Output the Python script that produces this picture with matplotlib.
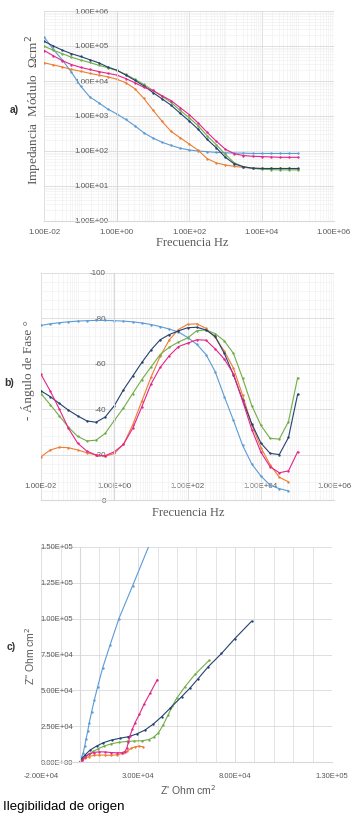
import numpy as np
import matplotlib
matplotlib.use("Agg")
import matplotlib.pyplot as plt
from matplotlib.ticker import LogLocator, MultipleLocator, FixedLocator, FuncFormatter, NullFormatter

# ---- data ----
# log10 of frequency (Hz) for the Bode plots
LOG_FREQ = [-2.0, -1.75, -1.5, -1.25, -1.0, -0.75, -0.5, -0.25, 0.0, 0.25, 0.5, 0.75,
            1.0, 1.25, 1.5, 1.75, 2.0, 2.25, 2.5, 2.75, 3.0, 3.25, 3.5, 3.75, 4.0,
            4.25, 4.5, 4.75, 5.0]

# a) log10 |Z| (ohm cm2)
mag_blue = [5.25, 4.90, 4.60, 4.25, 3.86, 3.55, 3.38, 3.20, 3.06, 2.90, 2.72, 2.52, 2.37,
            2.25, 2.16, 2.08, 2.03, 2.00, 1.98, 1.96, 1.95, 1.94, 1.94, 1.93, 1.93, 1.93,
            1.93, 1.93, 1.93]
mag_orange = [4.52, 4.46, 4.40, 4.33, 4.28, 4.22, 4.17, 4.12, 4.05, 3.95, 3.78, 3.50, 3.17,
              2.85, 2.56, 2.38, 2.20, 2.02, 1.78, 1.66, 1.60, 1.56, 1.53, 1.51, 1.50, 1.50,
              1.50, 1.50, 1.49]
mag_green = [4.99, 4.88, 4.78, 4.68, 4.60, 4.53, 4.45, 4.38, 4.30, 4.19, 4.05, 3.90, 3.73,
             3.56, 3.39, 3.16, 2.95, 2.72, 2.43, 2.18, 1.90, 1.66, 1.55, 1.50, 1.48, 1.47,
             1.46, 1.46, 1.46]
mag_navy = [5.13, 5.00, 4.88, 4.78, 4.70, 4.61, 4.52, 4.40, 4.31, 4.17, 4.02, 3.86, 3.67,
            3.49, 3.31, 3.08, 2.86, 2.62, 2.33, 2.09, 1.82, 1.63, 1.55, 1.51, 1.50, 1.50,
            1.50, 1.50, 1.50]
mag_pink = [4.87, 4.72, 4.58, 4.47, 4.39, 4.33, 4.27, 4.22, 4.17, 4.07, 3.95, 3.82, 3.73,
            3.58, 3.44, 3.24, 3.04, 2.80, 2.53, 2.28, 2.05, 1.92, 1.87, 1.85, 1.84, 1.83,
            1.82, 1.82, 1.82]

# b) phase angle magnitude (degrees), plotted as negative values
ph_blue = [76.8, 77.5, 78.0, 78.4, 78.7, 78.9, 79.0, 79.0, 78.9, 78.7, 78.4, 77.9, 77.2,
           76.3, 75.2, 73.9, 71.5, 68.5, 64.0, 56.5, 45.5, 35.0, 24.0, 15.8, 10.5, 6.5,
           5.0, 4.0, np.nan]
ph_orange = [19.0, 22.0, 23.2, 23.0, 22.0, 20.8, 19.8, 19.2, 20.5, 24.5, 33.0, 43.5, 54.0,
             63.2, 70.5, 75.0, 77.3, 77.5, 75.5, 71.5, 65.5, 58.0, 46.0, 33.0, 23.0, 15.5,
             10.0, 8.0, np.nan]
ph_green = [46.8, 42.0, 37.0, 32.0, 28.0, 26.0, 26.3, 29.3, 35.0, 40.5, 46.8, 53.0, 58.5,
            64.0, 67.2, 69.5, 71.3, 74.5, 74.8, 73.2, 70.0, 64.5, 53.5, 41.5, 32.8, 27.1,
            26.8, 34.5, 53.8]
ph_navy = [48.0, 45.5, 42.5, 39.5, 37.0, 34.8, 34.2, 36.5, 41.5, 48.5, 54.5, 60.5, 66.0,
           70.5, 72.8, 74.4, 75.8, 76.0, 74.8, 72.0, 64.5, 55.0, 44.0, 33.5, 25.0, 20.5,
           20.0, 27.5, 46.5]
ph_pink = [55.3, 48.0, 40.0, 31.5, 25.0, 21.5, 19.8, 19.5, 21.2, 24.5, 31.5, 41.0, 51.0,
           58.3, 63.5, 67.5, 69.0, 70.5, 70.3, 66.5, 62.0, 55.5, 43.5, 31.0, 21.0, 14.6,
           12.0, 12.8, 21.2]

# c) Nyquist, Z' and Z'' in units of 1e3 ohm cm2
nyq_blue_re = [0, 0.3, 0.8, 1.7, 2.4, 3.1, 4.0, 4.8, 6.0, 7.4, 9.1, 11.7, 15.5, 20.1, 27.2, 36.0]
nyq_blue_im = [0, 1.5, 3.5, 6.7, 11.0, 16.0, 21.7, 27.5, 35.1, 43.3, 52.5, 65.7, 81.5, 100.0, 123.0, 152.0]
nyq_orange_re = [0, 1.0, 2.5, 4.5, 7.0, 10.0, 13.0, 16.0, 19.0, 22.0, 24.5, 26.5, 28.5, 30.5, 32.6]
nyq_orange_im = [0, 1.3, 2.8, 4.0, 4.8, 5.1, 5.0, 4.8, 5.2, 6.2, 8.0, 9.8, 10.8, 11.3, 10.8]
nyq_green_re = [0, 1.0, 2.6, 4.5, 6.9, 9.5, 12.5, 16.0, 20.0, 24.0, 28.0, 32.0, 35.5, 38.0,
                40.5, 42.9, 45.5, 47.5, 49.8, 54.1, 59.3, 66.7]
nyq_green_im = [0, 1.8, 3.9, 5.8, 7.6, 9.5, 11.3, 12.8, 13.9, 14.5, 14.8, 15.0, 15.8, 17.5,
                20.5, 26.0, 33.0, 39.0, 44.4, 52.5, 61.1, 71.0]
nyq_navy_re = [0, 0.8, 2.6, 5.2, 8.6, 12.0, 16.3, 20.6, 24.9, 29.2, 33.5, 37.8, 42.1, 46.4,
               52.4, 57.0, 61.0, 66.1, 73.0, 79.9, 88.5]
nyq_navy_im = [0, 2.5, 5.1, 8.5, 11.3, 13.6, 15.5, 16.7, 17.8, 19.7, 22.4, 26.6, 31.7, 37.5,
               45.6, 52.0, 58.3, 66.4, 75.7, 86.1, 98.1]
nyq_pink_re = [0, 1.0, 2.5, 4.5, 7.0, 10.0, 13.0, 16.0, 19.0, 21.5, 23.2, 24.2, 25.0, 25.8,
               27.0, 28.4, 30.6, 33.0, 36.1, 39.9]
nyq_pink_im = [0, 1.5, 3.5, 5.5, 6.8, 7.3, 7.2, 6.8, 6.6, 6.7, 7.5, 10.0, 14.0, 18.5, 23.0,
               27.5, 33.3, 40.3, 47.9, 57.6]

COLORS = {"blue": "#5B9BD5", "orange": "#ED7D31", "green": "#70AD47",
          "navy": "#25416F", "pink": "#E4248C"}
ORDER = ["blue", "orange", "green", "navy", "pink"]

W, H = 355, 816
GRID = "#D9D9D9"
MINOR = "#EEEEEE"
TICK_C = "#595959"


def fx(x):
    return x / W


def fy(y):
    return 1 - y / H


def axes_px(fig, left, top, right, bottom):
    return fig.add_axes([fx(left), fy(bottom), (right - left) / W, (bottom - top) / H])


def sci(v, pos=None):
    return f"{v:.2E}"


def style(ax, yaxis_at):
    ax.set_facecolor("white")
    for s in ("top", "right"):
        ax.spines[s].set_visible(False)
    ax.spines["left"].set_position(("data", yaxis_at))
    ax.spines["left"].set_color(GRID)
    ax.spines["bottom"].set_color(GRID)
    ax.spines["left"].set_linewidth(0.8)
    ax.spines["bottom"].set_linewidth(0.8)
    ax.grid(True, which="major", color=GRID, lw=0.6)
    ax.grid(True, which="minor", color=MINOR, lw=0.4)
    ax.set_axisbelow(True)
    ax.tick_params(which="both", length=0, labelsize=5.8, labelcolor=TICK_C)
    for lab in ax.get_xticklabels() + ax.get_yticklabels():
        lab.set_fontfamily("Liberation Sans")


plt.rcParams["font.family"] = ["Liberation Sans", "DejaVu Sans"]
fig = plt.figure(figsize=(W / 100, H / 100), dpi=100)
fig.patch.set_facecolor("white")

freq = 10.0 ** np.array(LOG_FREQ)
line_kw = dict(marker="o", ms=1.7, lw=0.8, mew=0)

# ---- a) impedance modulus ----
ax1 = axes_px(fig, 44.3, 11, 334, 221)
ax1.set_xscale("log")
ax1.set_yscale("log")
mags = {"blue": mag_blue, "orange": mag_orange, "green": mag_green,
        "navy": mag_navy, "pink": mag_pink}
for k in ORDER:
    ax1.plot(freq, 10.0 ** np.array(mags[k]), color=COLORS[k], **line_kw)
ax1.set_xlim(1e-2, 1e6)
ax1.set_ylim(1, 1e6)
ax1.xaxis.set_major_locator(FixedLocator([1e-2, 1e0, 1e2, 1e4, 1e6]))
ax1.xaxis.set_minor_locator(LogLocator(base=10, subs=np.arange(1, 10), numticks=30))
ax1.yaxis.set_major_locator(FixedLocator([1e0, 1e1, 1e2, 1e3, 1e4, 1e5, 1e6]))
ax1.yaxis.set_minor_locator(LogLocator(base=10, subs=np.arange(2, 10), numticks=30))
ax1.xaxis.set_major_formatter(FuncFormatter(sci))
ax1.yaxis.set_major_formatter(FuncFormatter(sci))
ax1.xaxis.set_minor_formatter(NullFormatter())
ax1.yaxis.set_minor_formatter(NullFormatter())
style(ax1, 1.0)
ax1.tick_params(axis="x", pad=6)
ax1.tick_params(axis="y", pad=6)

# ---- b) phase angle ----
ax2 = axes_px(fig, 41, 272.7, 334.3, 500)
ax2.set_xscale("log")
phs = {"blue": ph_blue, "orange": ph_orange, "green": ph_green,
       "navy": ph_navy, "pink": ph_pink}
for k in ORDER:
    ax2.plot(freq, -np.array(phs[k]), color=COLORS[k], **line_kw)
ax2.set_xlim(1e-2, 1e6)
ax2.set_ylim(0, -100)
ax2.xaxis.set_major_locator(FixedLocator([1e-2, 1e0, 1e2, 1e4, 1e6]))
ax2.xaxis.set_minor_locator(LogLocator(base=10, subs=np.arange(1, 10), numticks=30))
ax2.xaxis.set_major_formatter(FuncFormatter(sci))
ax2.xaxis.set_minor_formatter(NullFormatter())
ax2.yaxis.set_major_locator(FixedLocator([0, -20, -40, -60, -80, -100]))
ax2.yaxis.set_minor_locator(MultipleLocator(4))
ax2.yaxis.set_major_formatter(FuncFormatter(lambda v, p: f"{v:.0f}"))
style(ax2, 1.0)
ax2.tick_params(axis="x", pad=-12)
ax2.tick_params(axis="y", pad=6)

# ---- c) Nyquist ----
ax3 = axes_px(fig, 41.2, 546.7, 332, 762.3)
nyq = {"blue": (nyq_blue_re, nyq_blue_im), "orange": (nyq_orange_re, nyq_orange_im),
       "green": (nyq_green_re, nyq_green_im), "navy": (nyq_navy_re, nyq_navy_im),
       "pink": (nyq_pink_re, nyq_pink_im)}
for k in ORDER:
    re, im = nyq[k]
    ax3.plot(np.array(re) * 1e3, np.array(im) * 1e3, color=COLORS[k], **line_kw)
ax3.set_xlim(-2e4, 1.3e5)
ax3.set_ylim(0, 1.5e5)
ax3.xaxis.set_major_locator(FixedLocator([-2e4, 3e4, 8e4, 1.3e5]))
ax3.xaxis.set_minor_locator(MultipleLocator(1e4))
ax3.yaxis.set_major_locator(MultipleLocator(2.5e4))
ax3.xaxis.set_major_formatter(FuncFormatter(sci))
ax3.yaxis.set_major_formatter(FuncFormatter(sci))
style(ax3, 0.0)
ax3.grid(True, which="minor", axis="x", color=GRID, lw=0.5)
ax3.tick_params(labelsize=5.5)
ax3.tick_params(axis="x", pad=8)
ax3.tick_params(axis="y", pad=5)

# ---- titles and panel letters ----
serif = ["Liberation Serif", "DejaVu Serif"]
fig.text(fx(192), fy(243), "Frecuencia Hz", family=serif, size=9, color=TICK_C,
         ha="center", va="center")
fig.text(fx(34), fy(110), "Impedancia  Módulo  Ωcm$^2$", family=serif, size=9.5,
         color=TICK_C, ha="center", va="center", rotation=90)
fig.text(fx(188), fy(513), "Frecuencia Hz", family=serif, size=9, color=TICK_C,
         ha="center", va="center")
fig.text(fx(28), fy(370), "- Ángulo de Fase °", family=serif, size=9.5, color=TICK_C,
         ha="center", va="center", rotation=90)
fig.text(fx(188), fy(790), "Z' Ohm cm$^2$", size=7.5, color=TICK_C,
         ha="center", va="center")
fig.text(fx(30), fy(656), "Z'' Ohm cm$^2$", size=7.5, color=TICK_C,
         ha="center", va="center", rotation=90)

for lab, x, y in [("a)", 14, 110), ("b)", 9, 383), ("c)", 11, 647)]:
    fig.text(fx(x), fy(y), lab, size=7.5, color="#333333", weight="bold",
             ha="center", va="center")

fig.text(fx(3), fy(807), "Ilegibilidad de origen", size=9.5, color="black",
         ha="left", va="center")

fig.savefig("out.png", dpi=100, facecolor="white")
